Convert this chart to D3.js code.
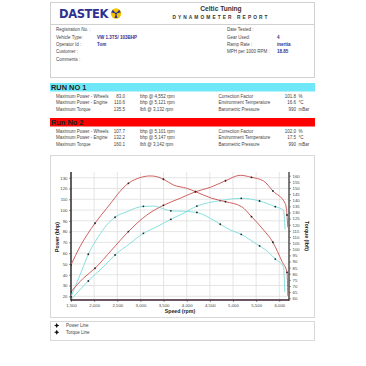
<!DOCTYPE html>
<html><head><meta charset="utf-8">
<script src="https://cdn.jsdelivr.net/npm/d3@7"></script>
<style>
html,body{margin:0;padding:0;background:#fff;}
svg{display:block;font-family:"Liberation Sans",Arial,sans-serif;}
</style></head>
<body><svg id="c" width="366" height="366"></svg>
<script>
// ---------- data ----------
const headerLeftLabels = ["Registration No. :", "Vehicle Type:", "Operator Id :", "Customer :", "Comments :"];
const headerLeftValues = ["", "VW 1.3TS/ 103BHP", "Tom", "", ""];
const headerRightLabels = ["Date Tested :", "Gear Used:", "Ramp Rate :", "MPH per 1000 RPM :"];
const headerRightValues = ["", "4", "inertia", "18.85"];

const runTitles = ["RUN NO 1", "Run No 2"];
const statLabels = ["Maximum Power - Wheels", "Maximum Power - Engine", "Maximum Torque"];
const run1StatValues = ["83.0", "110.6", "135.5"];
const run1StatUnits = ["bhp @ 4,552 rpm", "bhp @ 5,121 rpm", "lbft @ 3,132 rpm"];
const run2StatValues = ["107.7", "132.2", "160.1"];
const run2StatUnits = ["bhp @ 5,101 rpm", "bhp @ 5,147 rpm", "lbft @ 3,142 rpm"];
const envLabels = ["Correction Factor", "Environment Temperature", "Barometric Pressure"];
const run1EnvValues = ["101.8", "16.6", "990"];
const run2EnvValues = ["102.0", "17.5", "990"];
const envUnits = ["%", "°C", "mBar"];

const xTicks = [1500, 2000, 2500, 3000, 3500, 4000, 4500, 5000, 5500, 6000];
const powerTicks = [20, 30, 40, 50, 60, 70, 80, 90, 100, 110, 120, 130];
const torqueTicks = [60,65,70,75,80,85,90,95,100,105,110,115,120,125,130,135,140,145,150,155,160];
const legendLabels = ["Power Line", "Torque Line"];

// Run 1 (cyan)
const run1PowerRpm = [1500,1874,2199,2452,2777,3064,3354,3657,3929,4220,4470,4724,5178,5574,5914,6090,6125];
const run1Power    = [17,34.2,47.4,58.3,69.1,78.4,84.5,91.4,97,103.7,106.8,108.8,110.9,108.4,103.1,100,82];
const run1TorqueRpm = [1500,1695,1874,2091,2272,2452,2705,3064,3281,3657,3929,4220,4508,4724,4940,5178,5373,5574,5769,5914,6090,6120];
const run1Torque    = [61.4,79,95.9,110.2,119.8,126.1,130.6,135,135.2,131.3,131,130,125.3,120.4,115.7,112.2,107.6,102.7,97.5,92,85.8,65];
const run1MarkerRpm = [1500,1874,2452,3064,3657,4220,4724,5178,5574,5914];

// Run 2 (red)
const run2PowerRpm = [1500,1766,2019,2380,2740,3138,3497,3858,4190,4508,4838,5157,5400,5660,5862,6130,6167,6185];
const run2Power    = [24.2,36.7,46,63,80,95.4,104.4,110.9,117,121,127.2,132.2,130.4,127,117.7,106,95.4,84];
const run2TorqueRpm = [1500,1695,2019,2272,2740,2993,3209,3354,3497,3713,4003,4190,4538,4838,5187,5400,5661,5862,6060,6167,6185];
const run2Torque    = [87.2,102.1,121.2,133.4,153.8,158.4,159.8,159.2,157.1,152.4,149.7,147,141.6,138.8,134.7,126.6,115.7,105.7,89.9,81.2,62];
const run2MarkerRpm = [1500,2019,2740,3497,4190,4838,5400,5862,6167];

// ---------- drawing ----------
const svg = d3.select("#c");
const txtCol = "#444";
const blue = "#2e3192";

// header box
svg.append("rect").attr("x",50.5).attr("y",2.5).attr("width",264).attr("height",75).attr("fill","none").attr("stroke","#d0d0d0");
svg.append("line").attr("x1",50.5).attr("x2",314.5).attr("y1",24.5).attr("y2",24.5).attr("stroke","#d0d0d0");
svg.append("text").attr("x",59).attr("y",18).attr("font-size",11.5).attr("font-weight","bold").attr("fill",blue)
  .attr("letter-spacing",0.6).attr("font-family","DejaVu Sans").attr("textLength",50).text("DASTEK");
// emblem
const em = svg.append("g").attr("transform","translate(116,13.5)");
em.append("circle").attr("r",5.2).attr("fill","#f5c400");
[0,120,240].forEach(a=>{
  em.append("path").attr("d","M0,0 L-1.6,-4.6 L1.6,-4.6 Z").attr("fill",blue).attr("transform",`rotate(${a+180})`);
});
em.append("circle").attr("r",1.1).attr("fill",blue);
svg.append("text").attr("x",221).attr("y",11).attr("text-anchor","middle").attr("font-size",6.6).attr("font-weight","bold").attr("fill","#333").text("Celtic Tuning");
svg.append("text").attr("x",221).attr("y",19).attr("text-anchor","middle").attr("font-size",4.8).attr("font-weight","bold").attr("fill","#333").attr("letter-spacing",2.1).text("DYNAMOMETER REPORT");

const hy = [30.8, 38.5, 45.6, 53.2, 60.6];
headerLeftLabels.forEach((t,i)=>{
  svg.append("text").attr("x",56).attr("y",hy[i]).attr("font-size",4.5).attr("fill",txtCol).text(t);
  if(headerLeftValues[i]) svg.append("text").attr("x",97).attr("y",hy[i]).attr("font-size",4.5).attr("font-weight","bold").attr("fill",blue).text(headerLeftValues[i]);
});
headerRightLabels.forEach((t,i)=>{
  svg.append("text").attr("x",227).attr("y",hy[i]).attr("font-size",4.5).attr("fill",txtCol).text(t);
  if(headerRightValues[i]) svg.append("text").attr("x",277).attr("y",hy[i]).attr("font-size",4.5).attr("font-weight","bold").attr("fill",blue).text(headerRightValues[i]);
});

// run sections
function runSection(y0, title, color, vals, units, envVals){
  svg.append("rect").attr("x",50).attr("y",y0).attr("width",265).attr("height",8.5).attr("fill",color);
  svg.append("text").attr("x",51).attr("y",y0+7.2).attr("font-size",7.4).attr("font-weight","bold").attr("fill","#222").text(title);
  const ry = [y0+14.5, y0+21.2, y0+27.8];
  statLabels.forEach((t,i)=>{
    svg.append("text").attr("x",56).attr("y",ry[i]).attr("font-size",4.5).attr("fill",txtCol).text(t);
    svg.append("text").attr("x",125).attr("y",ry[i]).attr("font-size",4.5).attr("text-anchor","end").attr("fill",txtCol).text(vals[i]);
    svg.append("text").attr("x",140).attr("y",ry[i]).attr("font-size",4.5).attr("fill",txtCol).text(units[i]);
    svg.append("text").attr("x",218.5).attr("y",ry[i]).attr("font-size",4.5).attr("fill",txtCol).text(envLabels[i]);
    svg.append("text").attr("x",296).attr("y",ry[i]).attr("font-size",4.5).attr("text-anchor","end").attr("fill",txtCol).text(envVals[i]);
    svg.append("text").attr("x",298.5).attr("y",ry[i]).attr("font-size",4.5).attr("fill",txtCol).text(envUnits[i]);
  });
}
runSection(83, runTitles[0], "#6ee8f8", run1StatValues, run1StatUnits, run1EnvValues);
runSection(118, runTitles[1], "#ff0000", run2StatValues, run2StatUnits, run2EnvValues);

// chart box
svg.append("rect").attr("x",50.5).attr("y",155.5).attr("width",264).attr("height",162).attr("fill","none").attr("stroke","#d8d8d8");
svg.append("rect").attr("x",50.5).attr("y",321.5).attr("width",264).attr("height",19).attr("fill","none").attr("stroke","#d8d8d8");

const L=71, R=289, T=172, B=300;
const x = d3.scaleLinear().domain([1500, 6210]).range([L, R]);
const yP = d3.scaleLinear().domain([16.55, 135.3]).range([B, T]);
const yT = d3.scaleLinear().domain([58.6, 163]).range([B, T]);

// grid
const g = svg.append("g");
g.selectAll(".vg").data(xTicks).join("line").attr("x1",d=>x(d)).attr("x2",d=>x(d)).attr("y1",T).attr("y2",B).attr("stroke","#dedede").attr("stroke-width",0.8);
g.selectAll(".hg").data(powerTicks).join("line").attr("x1",L).attr("x2",R).attr("y1",d=>yP(d)).attr("y2",d=>yP(d)).attr("stroke","#dedede").attr("stroke-width",0.8);

// axes
const axB = svg.append("g").attr("transform",`translate(0,${B})`).call(d3.axisBottom(x).tickValues(xTicks).tickFormat(d3.format(",")).tickSize(2).tickPadding(2));
const axL = svg.append("g").attr("transform",`translate(${L},0)`).call(d3.axisLeft(yP).tickValues(powerTicks).tickSize(2).tickPadding(1.5));
const axR = svg.append("g").attr("transform",`translate(${R},0)`).call(d3.axisRight(yT).tickValues(torqueTicks).tickSize(2).tickPadding(1.5));
[axB,axL,axR].forEach(a=>{
  a.select(".domain").remove();
  a.selectAll("text").attr("font-size",4.3).attr("fill","#444").attr("font-family","Liberation Sans");
  a.selectAll("line").attr("stroke","#555").attr("stroke-width",0.6);
});
svg.append("line").attr("x1",L).attr("x2",L).attr("y1",T).attr("y2",B+0.7).attr("stroke","#222").attr("stroke-width",1.4);
svg.append("line").attr("x1",R).attr("x2",R).attr("y1",T).attr("y2",B+0.7).attr("stroke","#444").attr("stroke-width",1.4);
svg.append("line").attr("x1",L).attr("x2",R).attr("y1",B).attr("y2",B).attr("stroke","#3a1e2e").attr("stroke-width",1.4);

svg.append("text").attr("x",180).attr("y",313).attr("text-anchor","middle").attr("font-size",5.2).attr("font-weight","bold").attr("fill","#222").text("Speed (rpm)");
svg.append("text").attr("transform","translate(59,237) rotate(-90)").attr("text-anchor","middle").attr("font-size",5.2).attr("font-weight","bold").attr("fill","#222").text("Power (bhp)");
svg.append("text").attr("transform","translate(305,236) rotate(90)").attr("text-anchor","middle").attr("font-size",5.2).attr("font-weight","bold").attr("fill","#222").text("Torque (lbft)");

// curves
svg.append("clipPath").attr("id","clip").append("rect").attr("x",L).attr("y",T-4).attr("width",R-L).attr("height",B-T+4);
const plot = svg.append("g").attr("clip-path","url(#clip)");
const cyan = "#79dcdc", red = "#c8504f";
function series(rpms, vals, yScale, color, markers){
  const pts = rpms.map((r,i)=>[r, vals[i]]);
  const line = d3.line().x(d=>x(d[0])).y(d=>yScale(d[1])).curve(d3.curveMonotoneX);
  plot.append("path").datum(pts).attr("d",line).attr("fill","none").attr("stroke",color).attr("stroke-width",0.9);
  plot.selectAll(null).data(pts.filter(p=>markers.includes(p[0]))).join("circle")
    .attr("cx",d=>x(d[0])).attr("cy",d=>yScale(d[1])).attr("r",0.9).attr("fill","#222");
}
series(run1PowerRpm, run1Power, yP, cyan, run1MarkerRpm);
series(run1TorqueRpm, run1Torque, yT, cyan, run1MarkerRpm);
series(run2PowerRpm, run2Power, yP, red, run2MarkerRpm);
series(run2TorqueRpm, run2Torque, yT, red, run2MarkerRpm);

// legend
legendLabels.forEach((t,i)=>{
  const ly = 325.5 + i*6.8;
  svg.append("line").attr("x1",54.5).attr("x2",59).attr("y1",ly).attr("y2",ly).attr("stroke","#111").attr("stroke-width",0.8);
  svg.append("path").attr("d",d3.symbol(d3.symbolDiamond, 7)()).attr("transform",`translate(56.7,${ly})`).attr("fill","#111");
  svg.append("text").attr("x",66).attr("y",ly+1.6).attr("font-size",4.5).attr("fill",txtCol).text(t);
});
</script></body></html>
